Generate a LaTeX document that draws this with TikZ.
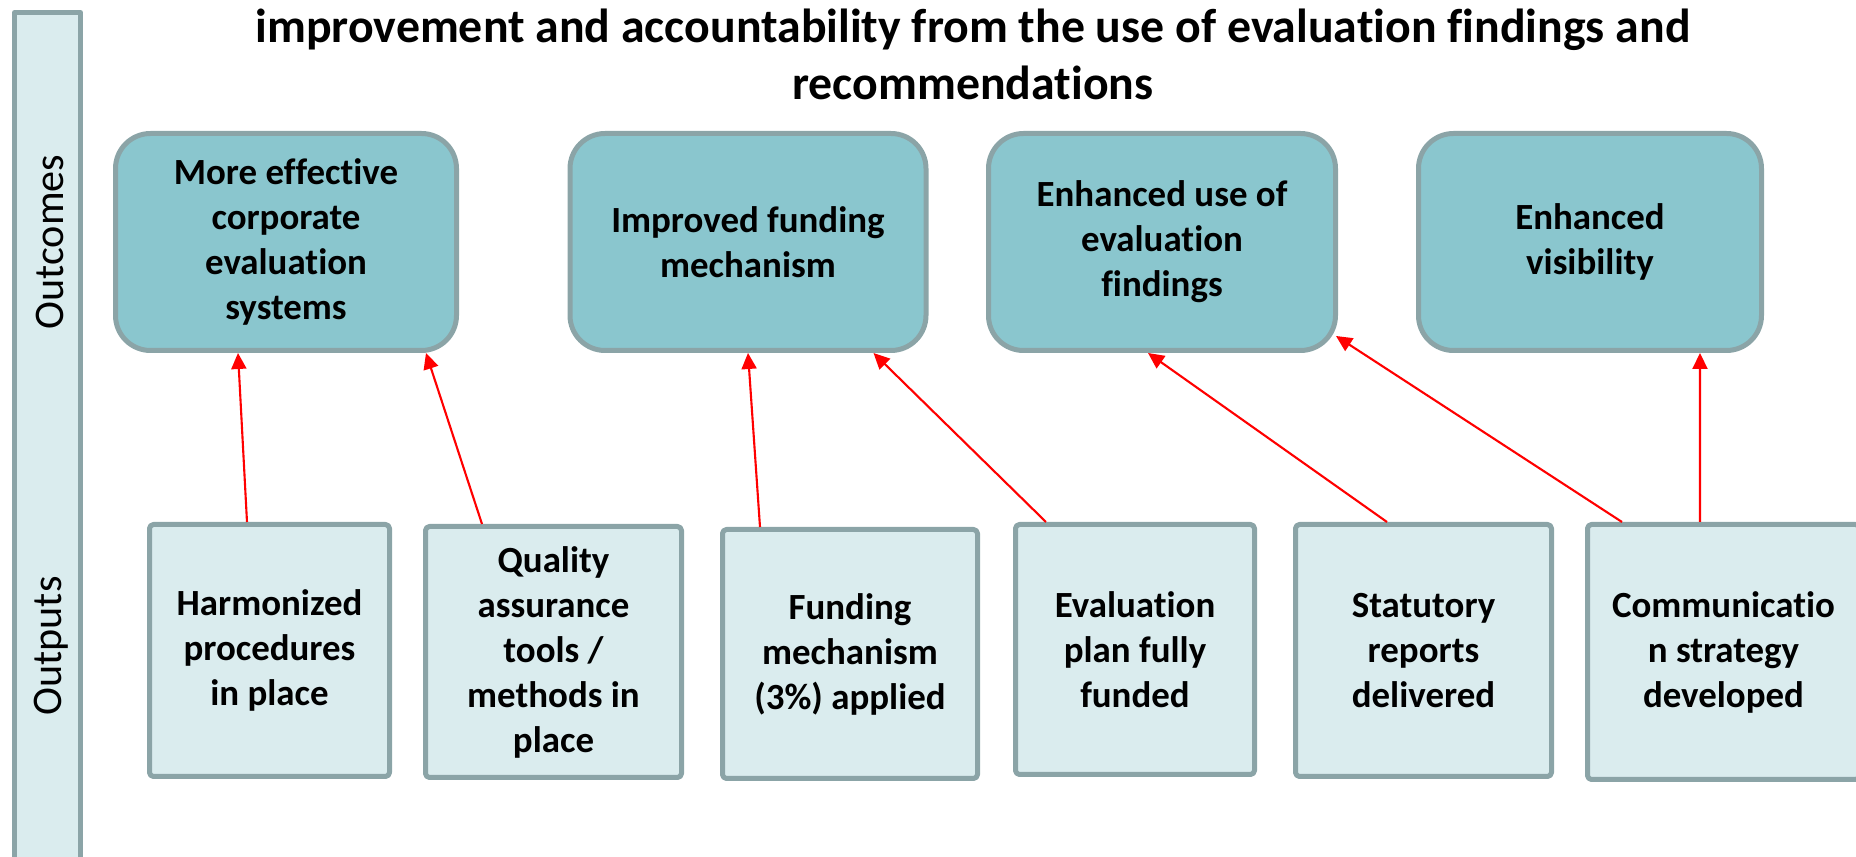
\documentclass[tikz,border=0pt]{standalone}
\usepackage{fontspec}
\setmainfont{Carlito}[Ligatures=NoCommon]
\usetikzlibrary{arrows.meta}
\definecolor{outcomefill}{HTML}{8AC6CE}
\definecolor{outputfill}{HTML}{DAECEE}
\definecolor{frameline}{HTML}{8BA4A7}
\begin{document}
\begin{tikzpicture}[x=0.1mm, y=-0.1mm, line join=round, >={Triangle[length=1.6mm,width=1.5mm]},
	outcome/.style={draw=frameline, fill=outcomefill, line width=0.5mm, rounded corners=3.5mm, minimum height=21.7mm, inner sep=0pt, align=center, font=\fontsize{10.5}{12.8}\selectfont\bfseries},
	output/.style={draw=frameline, fill=outputfill, line width=0.5mm, rounded corners=0.4mm, inner sep=0pt, align=center, font=\fontsize{10.5}{12.8}\selectfont\bfseries},
	side/.style={rotate=90, anchor=base, font=\fontsize{12}{14}\selectfont},
	link/.style={->, red, line width=0.6pt}]
	\useasboundingbox (0,0) rectangle (1856,857);
	\clip (0,0) rectangle (1856,857);
	\draw[draw=frameline, fill=outputfill, line width=0.5mm] (14.5,12.5) rectangle (80.5,900);
	\node[side] (outcomeslbl) at (63,242) {Outcomes};
	\node[side] (outputslbl) at (62,646) {Outputs};
	\node[anchor=base, align=center, font=\fontsize{13.6}{16.3}\selectfont\bfseries] (title) at (973,100)
		{improvement and accountability from the use of evaluation findings and\\recommendations};
	\node[outcome, minimum width=34.1mm] (o1) at (286,242) {More effective\\corporate\\evaluation\\systems};
	\node[outcome, minimum width=35.6mm] (o2) at (748,242) {Improved funding\\mechanism};
	\node[outcome, minimum width=34.7mm] (o3) at (1162,242) {Enhanced use of\\evaluation\\findings};
	\node[outcome, minimum width=34.3mm] (o4) at (1590,242) {Enhanced\\visibility};
	\node[output, minimum width=24.0mm, minimum height=25.2mm] (p1) at (269.5,650.5) {Harmonized\\procedures\\in place};
	\node[output, minimum width=25.6mm, minimum height=25.1mm] (p2) at (553.5,652) {Quality\\assurance\\tools /\\methods in\\place};
	\node[output, minimum width=25.5mm, minimum height=24.9mm] (p3) at (850,654) {Funding\\mechanism\\(3\%) applied};
	\node[output, minimum width=23.9mm, minimum height=25.0mm] (p4) at (1135,649.5) {Evaluation\\plan fully\\funded};
	\node[output, minimum width=25.6mm, minimum height=25.2mm] (p5) at (1423.5,650.5) {Statutory\\reports\\delivered};
	\node[output, minimum width=27.2mm, minimum height=25.5mm] (p6) at (1723.5,652) {Communicatio\\n strategy\\developed};
	\draw[link] ([xshift=-2.25mm]p1.north) -- ([xshift=-4.8mm]o1.south);
	\draw[link] ([xshift=-7.15mm]p2.north) -- ([xshift=14mm]o1.south);
	\draw[link] ([xshift=-9mm]p3.north) -- (o2.south);
	\draw[link] ([xshift=-8.9mm]p4.north) -- ([xshift=12.55mm]o2.south);
	\draw[link] ([xshift=-3.65mm]p5.north) -- ([xshift=-1.4mm]o3.south);
	\draw[link] ([xshift=-10.15mm]p6.north) -- ([shift={(-0.2mm,1.7mm)}]o3.south east);
	\draw[link] ([xshift=-2.35mm]p6.north) -- ([xshift=11mm]o4.south);
\end{tikzpicture}
\end{document}
